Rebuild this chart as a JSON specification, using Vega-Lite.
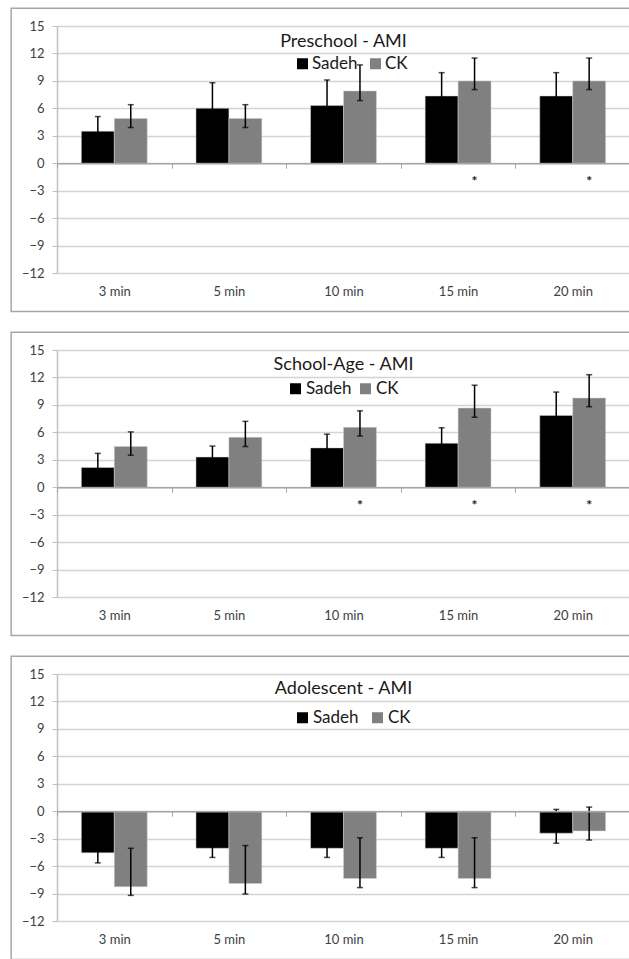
{
  "$schema": "https://vega.github.io/schema/vega-lite/v6.json",
  "background": "white",
  "padding": {"left": 10, "top": 7, "right": 0, "bottom": 0},
  "config": {
    "view": {"stroke": null},
    "font": "Lato",
    "axis": {"labelFont": "Lato", "labelColor": "#404040", "labelFontSize": 13, "title": null},
    "legend": {"labelFont": "Lato"},
    "title": {"font": "Lato"}
  },
  "datasets": {
    "d": [
      {"panel": "Preschool", "time": "3 min", "group": "Sadeh", "value": 3.5, "lower": 1.9, "upper": 5.1, "sig": false},
      {"panel": "Preschool", "time": "3 min", "group": "CK", "value": 4.9, "lower": 3.9, "upper": 6.4, "sig": false},
      {"panel": "Preschool", "time": "5 min", "group": "Sadeh", "value": 6.0, "lower": 3.2, "upper": 8.8, "sig": false},
      {"panel": "Preschool", "time": "5 min", "group": "CK", "value": 4.9, "lower": 3.9, "upper": 6.4, "sig": false},
      {"panel": "Preschool", "time": "10 min", "group": "Sadeh", "value": 6.3, "lower": 3.5, "upper": 9.1, "sig": false},
      {"panel": "Preschool", "time": "10 min", "group": "CK", "value": 7.9, "lower": 6.85, "upper": 10.75, "sig": false},
      {"panel": "Preschool", "time": "15 min", "group": "Sadeh", "value": 7.35, "lower": 4.8, "upper": 9.9, "sig": false},
      {"panel": "Preschool", "time": "15 min", "group": "CK", "value": 9.0, "lower": 8.05, "upper": 11.5, "sig": true},
      {"panel": "Preschool", "time": "20 min", "group": "Sadeh", "value": 7.35, "lower": 4.8, "upper": 9.9, "sig": false},
      {"panel": "Preschool", "time": "20 min", "group": "CK", "value": 9.0, "lower": 8.05, "upper": 11.5, "sig": true},
      {"panel": "School-Age", "time": "3 min", "group": "Sadeh", "value": 2.15, "lower": 0.6, "upper": 3.7, "sig": false},
      {"panel": "School-Age", "time": "3 min", "group": "CK", "value": 4.45, "lower": 3.5, "upper": 6.05, "sig": false},
      {"panel": "School-Age", "time": "5 min", "group": "Sadeh", "value": 3.3, "lower": 2.1, "upper": 4.5, "sig": false},
      {"panel": "School-Age", "time": "5 min", "group": "CK", "value": 5.45, "lower": 4.45, "upper": 7.2, "sig": false},
      {"panel": "School-Age", "time": "10 min", "group": "Sadeh", "value": 4.3, "lower": 2.8, "upper": 5.8, "sig": false},
      {"panel": "School-Age", "time": "10 min", "group": "CK", "value": 6.55, "lower": 5.6, "upper": 8.35, "sig": true},
      {"panel": "School-Age", "time": "15 min", "group": "Sadeh", "value": 4.8, "lower": 3.1, "upper": 6.5, "sig": false},
      {"panel": "School-Age", "time": "15 min", "group": "CK", "value": 8.65, "lower": 7.65, "upper": 11.15, "sig": true},
      {"panel": "School-Age", "time": "20 min", "group": "Sadeh", "value": 7.85, "lower": 5.3, "upper": 10.4, "sig": false},
      {"panel": "School-Age", "time": "20 min", "group": "CK", "value": 9.75, "lower": 8.8, "upper": 12.3, "sig": true},
      {"panel": "Adolescent", "time": "3 min", "group": "Sadeh", "value": -4.55, "lower": -5.65, "upper": -3.5, "sig": false},
      {"panel": "Adolescent", "time": "3 min", "group": "CK", "value": -8.25, "lower": -9.2, "upper": -4.05, "sig": false},
      {"panel": "Adolescent", "time": "5 min", "group": "Sadeh", "value": -4.05, "lower": -5.05, "upper": -3.0, "sig": false},
      {"panel": "Adolescent", "time": "5 min", "group": "CK", "value": -7.9, "lower": -9.05, "upper": -3.75, "sig": false},
      {"panel": "Adolescent", "time": "10 min", "group": "Sadeh", "value": -4.05, "lower": -5.05, "upper": -3.0, "sig": false},
      {"panel": "Adolescent", "time": "10 min", "group": "CK", "value": -7.35, "lower": -8.35, "upper": -2.9, "sig": false},
      {"panel": "Adolescent", "time": "15 min", "group": "Sadeh", "value": -4.05, "lower": -5.05, "upper": -3.0, "sig": false},
      {"panel": "Adolescent", "time": "15 min", "group": "CK", "value": -7.35, "lower": -8.35, "upper": -2.9, "sig": false},
      {"panel": "Adolescent", "time": "20 min", "group": "Sadeh", "value": -2.4, "lower": -3.5, "upper": 0.2, "sig": false},
      {"panel": "Adolescent", "time": "20 min", "group": "CK", "value": -2.15, "lower": -3.15, "upper": 0.45, "sig": false}
    ]
  },
  "vconcat": [
    {
      "width": 573, "height": 247,
      "data": {"name": "d"},
      "transform": [{"filter": "datum.panel == 'Preschool'"}],
      "title": {"text": "Preschool - AMI", "anchor": "middle", "frame": "group", "offset": -53, "baseline": "middle", "fontSize": 18, "fontWeight": "normal", "color": "#1a1a1a"},
      "encoding": {
        "x": {"field": "time", "type": "nominal", "scale": {"domain": ["3 min", "5 min", "10 min", "15 min", "20 min"], "paddingInner": 0, "paddingOuter": 0},
              "axis": {"orient": "bottom", "offset": -109.8, "domainColor": "#a6a6a6", "domainWidth": 1.5, "ticks": true, "tickBand": "extent", "tickSize": 5, "tickColor": "#a6a6a6", "labelPadding": 117, "labelAngle": 0, "grid": false}},
        "y": {"field": "value", "type": "quantitative", "scale": {"domain": [-12, 15], "nice": false},
              "axis": {"values": [-12, -9, -6, -3, 0, 3, 6, 9, 12, 15], "grid": true, "gridColor": "#d4d4d4", "gridWidth": 1.5, "domainColor": "#c0c0c0", "domainWidth": 1.5, "tickColor": "#c0c0c0", "tickSize": 5, "labelPadding": 8}}
      },
      "layer": [
        {"transform": [{"filter": "datum.time == '3 min' && datum.group == 'Sadeh'"}], "mark": {"type": "rect", "fill": "transparent", "stroke": "#a6a6a6", "strokeWidth": 1.5, "clip": false},
         "encoding": {"x": {"datum": "3 min", "bandPosition": -0.4}, "x2": {"datum": "20 min", "bandPosition": 1.3}, "y": {"datum": 16.95}, "y2": {"datum": -16.2}}},
        {"mark": {"type": "bar", "stroke": "#d0d0d0", "strokeWidth": 0.5},
         "encoding": {"xOffset": {"field": "group", "scale": {"domain": ["Sadeh", "CK"], "paddingInner": 0, "paddingOuter": 0.74}},
                      "color": {"field": "group", "type": "nominal", "scale": {"domain": ["Sadeh", "CK"], "range": ["#000000", "#808080"]},
                                "legend": {"orient": "none", "legendX": 237, "legendY": 29, "direction": "horizontal", "columns": 2, "title": null, "symbolType": "square", "symbolSize": 121, "symbolStrokeWidth": 0, "labelFontSize": 17, "labelColor": "#1a1a1a", "labelOffset": 1, "columnPadding": 9, "padding": 0}}}},
        {"mark": {"type": "rule", "color": "black", "strokeWidth": 1.5},
         "encoding": {"xOffset": {"field": "group"}, "y": {"field": "lower", "type": "quantitative"}, "y2": {"field": "upper"}}},
        {"mark": {"type": "tick", "color": "black", "size": 6, "thickness": 1.5},
         "encoding": {"xOffset": {"field": "group"}, "y": {"field": "upper", "type": "quantitative"}}},
        {"mark": {"type": "tick", "color": "black", "size": 6, "thickness": 1.5},
         "encoding": {"xOffset": {"field": "group"}, "y": {"field": "lower", "type": "quantitative"}}},
        {"transform": [{"filter": "datum.sig"}], "mark": {"type": "text", "text": "*", "fontSize": 14, "fontWeight": "bold", "color": "#222", "baseline": "middle"},
         "encoding": {"xOffset": {"field": "group"}, "y": {"datum": -2.0}}}
      ]
    },
    {
      "width": 573, "height": 247,
      "data": {"name": "d"},
      "transform": [{"filter": "datum.panel == 'School-Age'"}],
      "title": {"text": "School-Age - AMI", "anchor": "middle", "frame": "group", "offset": -52, "baseline": "middle", "fontSize": 18, "fontWeight": "normal", "color": "#1a1a1a"},
      "encoding": {
        "x": {"field": "time", "type": "nominal", "scale": {"domain": ["3 min", "5 min", "10 min", "15 min", "20 min"], "paddingInner": 0, "paddingOuter": 0},
              "axis": {"orient": "bottom", "offset": -109.8, "domainColor": "#a6a6a6", "domainWidth": 1.5, "ticks": true, "tickBand": "extent", "tickSize": 5, "tickColor": "#a6a6a6", "labelPadding": 117, "labelAngle": 0, "grid": false}},
        "y": {"field": "value", "type": "quantitative", "scale": {"domain": [-12, 15], "nice": false},
              "axis": {"values": [-12, -9, -6, -3, 0, 3, 6, 9, 12, 15], "grid": true, "gridColor": "#d4d4d4", "gridWidth": 1.5, "domainColor": "#c0c0c0", "domainWidth": 1.5, "tickColor": "#c0c0c0", "tickSize": 5, "labelPadding": 8}}
      },
      "layer": [
        {"transform": [{"filter": "datum.time == '3 min' && datum.group == 'Sadeh'"}], "mark": {"type": "rect", "fill": "transparent", "stroke": "#a6a6a6", "strokeWidth": 1.5, "clip": false},
         "encoding": {"x": {"datum": "3 min", "bandPosition": -0.4}, "x2": {"datum": "20 min", "bandPosition": 1.3}, "y": {"datum": 16.95}, "y2": {"datum": -16.2}}},
        {"mark": {"type": "bar", "stroke": "#d0d0d0", "strokeWidth": 0.5},
         "encoding": {"xOffset": {"field": "group", "scale": {"domain": ["Sadeh", "CK"], "paddingInner": 0, "paddingOuter": 0.74}},
                      "color": {"field": "group", "type": "nominal", "scale": {"domain": ["Sadeh", "CK"], "range": ["#000000", "#808080"]},
                                "legend": {"orient": "none", "legendX": 230, "legendY": 30, "direction": "horizontal", "columns": 2, "title": null, "symbolType": "square", "symbolSize": 121, "symbolStrokeWidth": 0, "labelFontSize": 17, "labelColor": "#1a1a1a", "labelOffset": 2, "columnPadding": 5, "padding": 0}}}},
        {"mark": {"type": "rule", "color": "black", "strokeWidth": 1.5},
         "encoding": {"xOffset": {"field": "group"}, "y": {"field": "lower", "type": "quantitative"}, "y2": {"field": "upper"}}},
        {"mark": {"type": "tick", "color": "black", "size": 6, "thickness": 1.5},
         "encoding": {"xOffset": {"field": "group"}, "y": {"field": "upper", "type": "quantitative"}}},
        {"mark": {"type": "tick", "color": "black", "size": 6, "thickness": 1.5},
         "encoding": {"xOffset": {"field": "group"}, "y": {"field": "lower", "type": "quantitative"}}},
        {"transform": [{"filter": "datum.sig"}], "mark": {"type": "text", "text": "*", "fontSize": 14, "fontWeight": "bold", "color": "#222", "baseline": "middle"},
         "encoding": {"xOffset": {"field": "group"}, "y": {"datum": -2.0}}}
      ]
    },
    {
      "width": 573, "height": 247,
      "data": {"name": "d"},
      "transform": [{"filter": "datum.panel == 'Adolescent'"}],
      "title": {"text": "Adolescent - AMI", "anchor": "middle", "frame": "group", "offset": -52, "baseline": "middle", "fontSize": 18, "fontWeight": "normal", "color": "#1a1a1a"},
      "encoding": {
        "x": {"field": "time", "type": "nominal", "scale": {"domain": ["3 min", "5 min", "10 min", "15 min", "20 min"], "paddingInner": 0, "paddingOuter": 0},
              "axis": {"orient": "bottom", "offset": -109.8, "domainColor": "#a6a6a6", "domainWidth": 1.5, "ticks": true, "tickBand": "extent", "tickSize": 5, "tickColor": "#a6a6a6", "labelPadding": 117, "labelAngle": 0, "grid": false}},
        "y": {"field": "value", "type": "quantitative", "scale": {"domain": [-12, 15], "nice": false},
              "axis": {"values": [-12, -9, -6, -3, 0, 3, 6, 9, 12, 15], "grid": true, "gridColor": "#d4d4d4", "gridWidth": 1.5, "domainColor": "#c0c0c0", "domainWidth": 1.5, "tickColor": "#c0c0c0", "tickSize": 5, "labelPadding": 8}}
      },
      "layer": [
        {"transform": [{"filter": "datum.time == '3 min' && datum.group == 'Sadeh'"}], "mark": {"type": "rect", "fill": "transparent", "stroke": "#a6a6a6", "strokeWidth": 1.5, "clip": false},
         "encoding": {"x": {"datum": "3 min", "bandPosition": -0.4}, "x2": {"datum": "20 min", "bandPosition": 1.3}, "y": {"datum": 16.95}, "y2": {"datum": -16.2}}},
        {"mark": {"type": "bar", "stroke": "#d0d0d0", "strokeWidth": 0.5},
         "encoding": {"xOffset": {"field": "group", "scale": {"domain": ["Sadeh", "CK"], "paddingInner": 0, "paddingOuter": 0.74}},
                      "color": {"field": "group", "type": "nominal", "scale": {"domain": ["Sadeh", "CK"], "range": ["#000000", "#808080"]},
                                "legend": {"orient": "none", "legendX": 237, "legendY": 35, "direction": "horizontal", "columns": 2, "title": null, "symbolType": "square", "symbolSize": 121, "symbolStrokeWidth": 0, "labelFontSize": 17, "labelColor": "#1a1a1a", "labelOffset": 2, "columnPadding": 10, "padding": 0}}}},
        {"mark": {"type": "rule", "color": "black", "strokeWidth": 1.5},
         "encoding": {"xOffset": {"field": "group"}, "y": {"field": "lower", "type": "quantitative"}, "y2": {"field": "upper"}}},
        {"mark": {"type": "tick", "color": "black", "size": 6, "thickness": 1.5},
         "encoding": {"xOffset": {"field": "group"}, "y": {"field": "upper", "type": "quantitative"}}},
        {"mark": {"type": "tick", "color": "black", "size": 6, "thickness": 1.5},
         "encoding": {"xOffset": {"field": "group"}, "y": {"field": "lower", "type": "quantitative"}}}
      ]
    }
  ],
  "spacing": 18,
  "resolve": {"legend": {"color": "independent"}}
}
